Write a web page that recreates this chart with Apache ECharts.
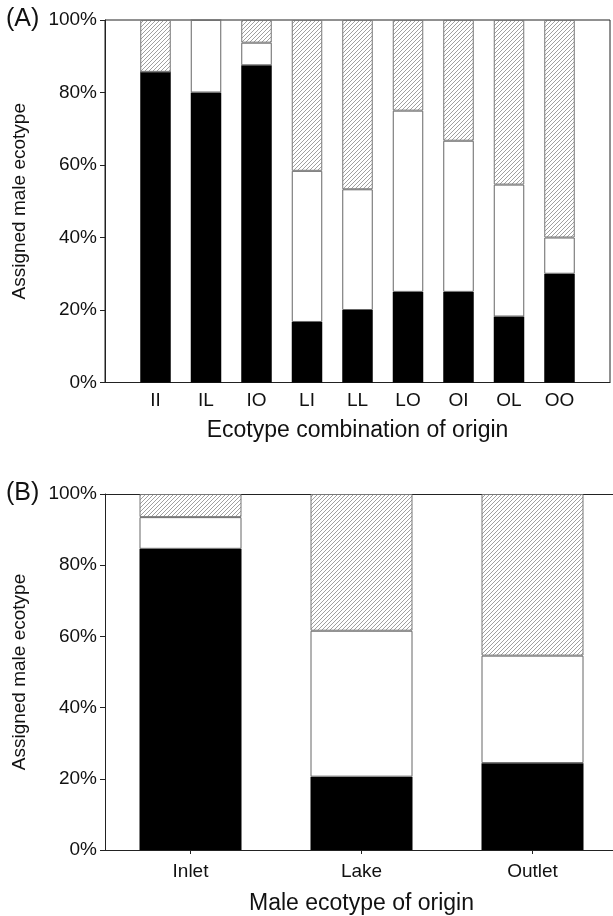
<!DOCTYPE html>
<html>
<head>
<meta charset="utf-8">
<script src="https://cdn.jsdelivr.net/npm/echarts@6/dist/echarts.min.js"></script>
<style>
html,body{margin:0;padding:0;background:#fff;overflow:hidden;}
#chart{width:622px;height:916px;}
</style>
</head>
<body>
<div id="chart"></div>
<script>
// Panel A: ecotype combination of origin
var catsA = ['II','IL','IO','LI','LL','LO','OI','OL','OO'];
var blackA = [85.7, 80, 87.5, 16.7, 20, 25, 25, 18.2, 30];
var whiteA = [0, 20, 6.25, 41.7, 33.3, 50, 41.7, 36.4, 10];
var hatchA = [14.3, 0, 6.25, 41.6, 46.7, 25, 33.3, 45.4, 60];

// Panel B: male ecotype of origin
var catsB = ['Inlet','Lake','Outlet'];
var blackB = [84.6, 20.6, 24.4];
var whiteB = [8.9, 41.0, 30.2];
var hatchB = [6.5, 38.4, 45.4];

var yTicks = [0, 20, 40, 60, 80, 100];

var FONT = "'Liberation Sans', Arial, Helvetica, sans-serif";

// panel A axis has an empty slot at each end
function pad(arr, fill){ return [fill].concat(arr, [fill]); }

// hatch pattern
var pc = document.createElement('canvas');
pc.width = 8; pc.height = 8;
var g = pc.getContext('2d');
g.fillStyle = '#fff'; g.fillRect(0,0,8,8);
g.strokeStyle = '#777'; g.lineWidth = 0.7;
g.beginPath();
for (var i = -8; i <= 16; i += 4) { g.moveTo(i, 8); g.lineTo(i + 8, 0); }
g.stroke();
var hatchFill = { image: pc, repeat: 'repeat' };

var yAxisCommon = {
  type: 'value', min: yTicks[0], max: yTicks[yTicks.length-1], interval: 20,
  name: 'Assigned male ecotype', nameLocation: 'middle', nameGap: 76,
  nameTextStyle: { fontFamily: FONT, fontSize: 19, color: '#111' },
  axisLine: { show: true, lineStyle: { color: '#222', width: 1 } },
  axisTick: { show: true, inside: false, length: 5, lineStyle: { color: '#222' } },
  axisLabel: { formatter: '{value}%', fontFamily: FONT, fontSize: 19, color: '#111', margin: 8 },
  splitLine: { show: false }
};

var chart = echarts.init(document.getElementById('chart'), null, { renderer: 'canvas' });
chart.setOption({
  backgroundColor: '#fff',
  animation: false,
  grid: [
    { left: 105, top: 20, width: 505, height: 362.5, show: true, borderColor: '#222', borderWidth: 1, containLabel: false },
    { left: 105, top: 494, width: 513, height: 358.3, show: false, containLabel: false }
  ],
  xAxis: [
    {
      gridIndex: 0, type: 'category', data: pad(catsA, ''), boundaryGap: false,
      name: 'Ecotype combination of origin', nameLocation: 'middle', nameGap: 37,
      nameTextStyle: { fontFamily: FONT, fontSize: 23, color: '#111' },
      axisLine: { show: true, lineStyle: { color: '#222' } },
      axisTick: { show: false },
      splitLine: { show: false },
      axisLabel: { fontFamily: FONT, fontSize: 19, color: '#111', margin: 9, interval: 0 }
    },
    {
      gridIndex: 1, type: 'category', data: catsB, boundaryGap: true,
      name: 'Male ecotype of origin', nameLocation: 'middle', nameGap: 42,
      nameTextStyle: { fontFamily: FONT, fontSize: 23, color: '#111' },
      axisLine: { show: true, lineStyle: { color: '#222' } },
      axisTick: { show: true, alignWithLabel: true, length: 4, lineStyle: { color: '#222' } },
      axisLabel: { fontFamily: FONT, fontSize: 19, color: '#111', margin: 12 },
      splitLine: { show: false }
    },
    {
      gridIndex: 1, type: 'category', data: catsB, boundaryGap: true, position: 'top',
      axisLine: { show: true, lineStyle: { color: '#222' } },
      axisTick: { show: false }, axisLabel: { show: false }, splitLine: { show: false }
    }
  ],
  yAxis: [
    Object.assign({ gridIndex: 0 }, yAxisCommon),
    Object.assign({ gridIndex: 1 }, yAxisCommon)
  ],
  series: [
    { name: 'Inlet', type: 'bar', xAxisIndex: 0, yAxisIndex: 0, stack: 'a', barWidth: 30.5,
      data: pad(blackA, null), itemStyle: { color: '#000', borderColor: '#000', borderWidth: 0 } },
    { name: 'Lake', type: 'bar', xAxisIndex: 0, yAxisIndex: 0, stack: 'a', barWidth: 30.5,
      data: pad(whiteA, null), itemStyle: { color: '#fff', borderColor: '#666', borderWidth: 1 } },
    { name: 'Outlet', type: 'bar', xAxisIndex: 0, yAxisIndex: 0, stack: 'a', barWidth: 30.5,
      data: pad(hatchA, null), itemStyle: { color: hatchFill, borderColor: '#777', borderWidth: 1 } },
    { name: 'Inlet', type: 'bar', xAxisIndex: 1, yAxisIndex: 1, stack: 'b', barWidth: 102,
      data: blackB, itemStyle: { color: '#000', borderColor: '#000', borderWidth: 0 } },
    { name: 'Lake', type: 'bar', xAxisIndex: 1, yAxisIndex: 1, stack: 'b', barWidth: 102,
      data: whiteB, itemStyle: { color: '#fff', borderColor: '#666', borderWidth: 1 } },
    { name: 'Outlet', type: 'bar', xAxisIndex: 1, yAxisIndex: 1, stack: 'b', barWidth: 102,
      data: hatchB, itemStyle: { color: hatchFill, borderColor: '#777', borderWidth: 1 } }
  ],
  graphic: [
    { type: 'text', left: 6, top: 7, style: { text: '(A)', font: '25px ' + FONT, fill: '#111' } },
    { type: 'text', left: 6, top: 481, style: { text: '(B)', font: '25px ' + FONT, fill: '#111' } }
  ]
});
</script>
</body>
</html>
